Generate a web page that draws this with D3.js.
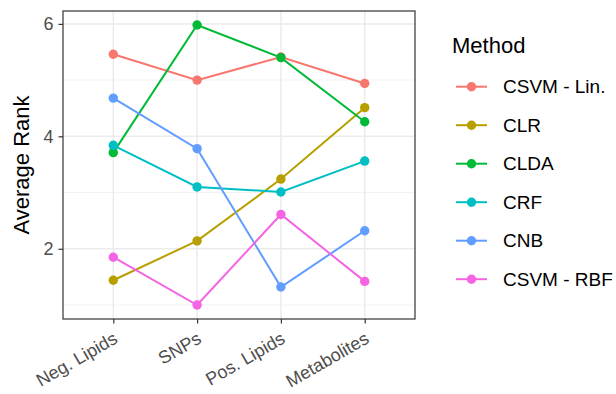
<!DOCTYPE html>
<html><head><meta charset="utf-8">
<script src="https://cdn.jsdelivr.net/npm/d3@7"></script>
<style>body{margin:0;background:#fff;} text{font-family:"Liberation Sans",Arial,sans-serif;}</style>
</head><body><svg id="c" width="616" height="394"></svg>
<script>
const categories = ["Neg. Lipids", "SNPs", "Pos. Lipids", "Metabolites"];
const methods = ["CSVM - Lin.", "CLR", "CLDA", "CRF", "CNB", "CSVM - RBF"];
const colors = ["#F8766D", "#B79F00", "#00BA38", "#00BFC4", "#619CFF", "#F564E3"];
const csvmLin = [5.46, 5.00, 5.41, 4.94];
const clr = [1.44, 2.14, 3.24, 4.51];
const clda = [3.71, 5.98, 5.40, 4.26];
const crf = [3.84, 3.10, 3.01, 3.56];
const cnb = [4.68, 3.78, 1.32, 2.32];
const csvmRbf = [1.85, 1.00, 2.61, 1.42];
const yTicks = [2, 4, 6];
const yMinor = [1, 3, 5];
const seriesValues = [csvmLin, clr, clda, crf, cnb, csvmRbf];

const svg = d3.select("#c");
const L = 63, R = 415, T = 11, B = 319;
const x = d3.scalePoint().domain(categories).range([L, R]).padding(0.6);
const y = d3.scaleLinear().domain([0.751, 6.229]).range([B, T]);

// grid
const g = svg.append("g");
g.selectAll(".minor").data(yMinor).join("line")
  .attr("x1", L).attr("x2", R).attr("y1", d => y(d)).attr("y2", d => y(d))
  .attr("stroke", "#F0F0F0").attr("stroke-width", 0.9);
g.selectAll(".major").data(yTicks).join("line")
  .attr("x1", L).attr("x2", R).attr("y1", d => y(d)).attr("y2", d => y(d))
  .attr("stroke", "#EBEBEB").attr("stroke-width", 1.5);
g.selectAll(".vmajor").data(categories).join("line")
  .attr("x1", d => x(d)).attr("x2", d => x(d)).attr("y1", T).attr("y2", B)
  .attr("stroke", "#EBEBEB").attr("stroke-width", 1.5);

// lines & points
const line = d3.line().x((d, i) => x(categories[i])).y(d => y(d));
seriesValues.forEach((vals, k) => {
  svg.append("path").datum(vals).attr("d", line).attr("fill", "none")
    .attr("stroke", colors[k]).attr("stroke-width", 2);
});
seriesValues.forEach((vals, k) => {
  svg.selectAll(null).data(vals).join("circle")
    .attr("cx", (d, i) => x(categories[i])).attr("cy", d => y(d)).attr("r", 4.7)
    .attr("fill", colors[k]);
});

// border
svg.append("rect").attr("x", L).attr("y", T).attr("width", R - L).attr("height", B - T)
  .attr("fill", "none").attr("stroke", "#333333").attr("stroke-width", 1.2);

// y axis
const ya = svg.append("g").attr("transform", `translate(${L},0)`)
  .call(d3.axisLeft(y).tickValues(yTicks).tickSize(4.5).tickPadding(5).tickFormat(d3.format("d")));
ya.select(".domain").remove();
ya.selectAll("line").attr("stroke", "#333333").attr("stroke-width", 1.2);
ya.selectAll("text").attr("fill", "#4D4D4D").style("font-size", "18px")
  .style("font-family", "'Liberation Sans', Arial, sans-serif");

// x axis
const xa = svg.append("g").attr("transform", `translate(0,${B})`)
  .call(d3.axisBottom(x).tickSize(4.5).tickPadding(4));
xa.select(".domain").remove();
xa.selectAll("line").attr("stroke", "#333333").attr("stroke-width", 1.2);
xa.selectAll("text").attr("fill", "#4D4D4D").style("font-size", "18px")
  .style("font-family", "'Liberation Sans', Arial, sans-serif")
  .attr("text-anchor", "end").attr("dy", null).attr("y", 0)
  .attr("transform", "translate(5,23) rotate(-30)");

// y title
svg.append("text").attr("transform", `translate(29,${(T + B) / 2}) rotate(-90)`)
  .attr("text-anchor", "middle").style("font-size", "22px").attr("fill", "#000")
  .text("Average Rank");

// legend
const lg = svg.append("g");
lg.append("text").attr("x", 452).attr("y", 52.5).style("font-size", "22px").text("Method");
methods.forEach((m, k) => {
  const yy = 86.7 + k * 38.5;
  lg.append("line").attr("x1", 456).attr("x2", 487).attr("y1", yy).attr("y2", yy)
    .attr("stroke", colors[k]).attr("stroke-width", 2);
  lg.append("circle").attr("cx", 471.5).attr("cy", yy).attr("r", 4.7).attr("fill", colors[k]);
  lg.append("text").attr("x", 503).attr("y", yy + 6.5).style("font-size", "19px").text(m);
});
</script></body></html>
